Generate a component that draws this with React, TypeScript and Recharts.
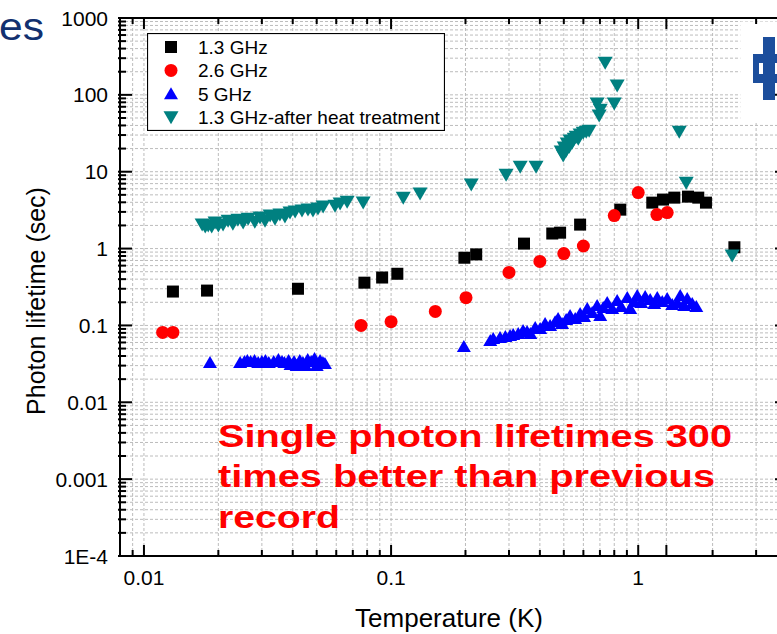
import { ScatterChart, Scatter, XAxis, YAxis, CartesianGrid, Legend, ReferenceArea } from "recharts";

const FONT = '"Liberation Sans", Arial, Helvetica, sans-serif';

// axis ticks
const xTicks = [
  0.009, 0.01, 0.02, 0.03, 0.04, 0.05, 0.06, 0.07, 0.08, 0.09,
  0.1, 0.2, 0.3, 0.4, 0.5, 0.6, 0.7, 0.8, 0.9,
  1, 1.3, 2, 3, 4,
];
const xLongTicks = [0.01, 0.1, 1, 1.3];
const xTickLabels: Record<string, string> = { "0.01": "0.01", "0.1": "0.1", "1": "1" };

const yDecades = [0.0001, 0.001, 0.01, 0.1, 1, 10, 100];
const yMajor = [0.0001, 0.001, 0.01, 0.1, 1, 10, 100, 1000];
const yTickLabels = ["1E-4", "0.001", "0.01", "0.1", "1", "10", "100", "1000"];
const yTicks = [...yDecades.flatMap((d) => [1, 2, 3, 4, 5, 6, 7, 8, 9].map((m) => m * d)), 1000];

// 1.3 GHz
const t13 = [0.0131, 0.018, 0.042, 0.078, 0.092, 0.106, 0.198, 0.221, 0.345, 0.449, 0.483, 0.582, 0.846, 1.14, 1.26, 1.4, 1.59, 1.75, 1.88, 2.45];
const tau13 = [0.276, 0.284, 0.3, 0.36, 0.42, 0.47, 0.76, 0.84, 1.16, 1.57, 1.61, 2.05, 3.21, 3.96, 4.34, 4.6, 4.74, 4.6, 3.96, 1.04];

// 2.6 GHz
const t26 = [0.0119, 0.0131, 0.0756, 0.1, 0.151, 0.201, 0.3, 0.4, 0.5, 0.6, 0.8, 1.0, 1.19, 1.31];
const tau26 = [0.081, 0.081, 0.1, 0.112, 0.152, 0.23, 0.49, 0.68, 0.86, 1.08, 2.69, 5.35, 2.77, 2.94];

// 5 GHz
const t5 = [
  0.0185,
  0.0245, 0.0255, 0.0262, 0.027, 0.028, 0.029, 0.03, 0.031, 0.032, 0.0335, 0.035, 0.0362, 0.037, 0.0385,
  0.0392, 0.0405, 0.0415, 0.0427, 0.044, 0.045, 0.046, 0.0475, 0.049, 0.05, 0.0516, 0.053, 0.054,
  0.197,
  0.252, 0.259, 0.276, 0.29, 0.303, 0.312, 0.327, 0.342, 0.355, 0.366, 0.383, 0.401, 0.42, 0.44, 0.461,
  0.474, 0.492, 0.511, 0.53, 0.556, 0.582, 0.604, 0.622, 0.651, 0.682, 0.702, 0.722, 0.749, 0.785,
  0.822, 0.853, 0.903, 0.928, 0.963, 0.991, 1.028, 1.067, 1.118, 1.161, 1.194, 1.251, 1.31, 1.373,
  1.438, 1.479, 1.535, 1.579, 1.654, 1.718,
];
const tau5 = [
  0.033,
  0.033, 0.034, 0.035, 0.034, 0.035, 0.033, 0.034, 0.035, 0.033, 0.034, 0.036, 0.034, 0.033, 0.035,
  0.031, 0.034, 0.03, 0.035, 0.033, 0.03, 0.036, 0.034, 0.037, 0.03, 0.035, 0.033, 0.032,
  0.053,
  0.0636, 0.0676, 0.0696, 0.0717, 0.0739, 0.0761, 0.0784, 0.0859, 0.0833, 0.0784, 0.0939, 0.0912, 0.106, 0.0997, 0.112,
  0.123, 0.106, 0.119, 0.135, 0.123, 0.143, 0.131, 0.166, 0.147, 0.182, 0.135, 0.171, 0.199, 0.166,
  0.211, 0.176, 0.231, 0.166, 0.205, 0.245, 0.199, 0.238, 0.217, 0.193, 0.231, 0.205, 0.224, 0.187,
  0.199, 0.245, 0.182, 0.224, 0.193, 0.176,
];

// 1.3 GHz after heat treatment
const tHeat = [
  0.0172, 0.0177, 0.0182, 0.0188, 0.0194, 0.02, 0.0209, 0.0219, 0.0229, 0.024, 0.0252, 0.0264, 0.0281, 0.0295,
  0.0309, 0.0324, 0.0339, 0.0355, 0.0372, 0.039, 0.0409, 0.0436, 0.0461, 0.0483, 0.0506, 0.0531, 0.0593, 0.0622,
  0.0664, 0.0771,
  0.112, 0.131, 0.211, 0.292, 0.333, 0.386,
  0.488, 0.497, 0.502, 0.511, 0.516, 0.526, 0.53, 0.54, 0.551, 0.561, 0.572, 0.582, 0.599, 0.616, 0.633,
  0.682, 0.702, 0.695, 0.8, 0.822, 0.735,
  1.466, 1.564, 2.4,
];
const tauHeat = [
  2.05, 1.93, 1.99, 1.93, 2.18, 1.99, 2.05, 2.31, 2.11, 2.38, 2.18, 2.45, 2.24, 2.53,
  2.31, 2.69, 2.45, 2.77, 2.61, 2.94, 3.03, 3.12, 3.22, 3.12, 3.31, 3.52, 3.62, 3.85,
  4.08, 3.97,
  4.6, 5.19, 6.8, 9.15, 11.6, 11.6,
  18.3, 16.2, 20.6, 18.8, 23.2, 21.2, 25.4, 23.9, 26.9, 28.6, 26.9, 30.4, 32.2, 33.2, 34.2,
  76.9, 64.2, 53.7, 76.9, 132, 262,
  33.2, 7.2, 0.81,
];

const zip = (t: number[], tau: number[]) => t.map((v, i) => ({ t: v, tau: tau[i] }));

type Kind = "square" | "circle" | "up" | "down";

function Marker({ kind, cx, cy, color }: { kind: Kind; cx: number; cy: number; color: string }) {
  if (kind === "square") return <rect x={cx - 6} y={cy - 6} width={12} height={12} fill={color} />;
  if (kind === "circle") return <circle cx={cx} cy={cy} r={6.5} fill={color} />;
  if (kind === "up")
    return <path d={`M${cx},${cy - 6.5}L${cx + 7},${cy + 5.5}L${cx - 7},${cy + 5.5}Z`} fill={color} />;
  return <path d={`M${cx - 7.5},${cy - 6}L${cx + 7.5},${cy - 6}L${cx},${cy + 7}Z`} fill={color} />;
}

const series = [
  { name: "1.3 GHz", color: "#000000", kind: "square" as Kind, data: zip(t13, tau13) },
  { name: "2.6 GHz", color: "#ff0000", kind: "circle" as Kind, data: zip(t26, tau26) },
  { name: "5 GHz", color: "#0000ff", kind: "up" as Kind, data: zip(t5, tau5) },
  { name: "1.3 GHz-after heat treatment", color: "#008080", kind: "down" as Kind, data: zip(tHeat, tauHeat) },
];

const isMajorY = (v: number) => Math.abs(Math.log10(v) - Math.round(Math.log10(v))) < 1e-6;
const yLabel = (v: number) => {
  const i = yMajor.findIndex((m) => Math.abs(m - v) / m < 1e-6);
  return i >= 0 ? yTickLabels[i] : "";
};
const isLongX = (v: number) => xLongTicks.some((m) => Math.abs(m - v) / m < 1e-6);

const tickText = { fontFamily: FONT, fontSize: 21, fill: "#000" };

function BottomTick(props: any) {
  const { x, y, payload } = props;
  const v = payload.value;
  const label = xTickLabels[String(v)];
  return (
    <g>
      <line x1={x} x2={x} y1={y} y2={y - (isLongX(v) ? 11 : 6)} stroke="#000" strokeWidth={2} />
      {label && (
        <text x={x} y={y + 29} textAnchor="middle" {...tickText}>
          {label}
        </text>
      )}
    </g>
  );
}

function TopTick(props: any) {
  const { x, y, payload } = props;
  return <line x1={x} x2={x} y1={y} y2={y + (isLongX(payload.value) ? 11 : 6)} stroke="#000" strokeWidth={2} />;
}

function LeftTick(props: any) {
  const { x, y, payload } = props;
  const v = payload.value;
  const major = isMajorY(v);
  return (
    <g>
      <line x1={x - 2} x2={x + (major ? 12 : 6)} y1={y} y2={y} stroke="#000" strokeWidth={2} />
      {major && (
        <text x={x - 12} y={y} dy="0.36em" textAnchor="end" {...tickText}>
          {yLabel(v)}
        </text>
      )}
    </g>
  );
}

function RightTick(props: any) {
  const { x, y, payload } = props;
  return <line x1={x} x2={x - (isMajorY(payload.value) ? 12 : 6)} y1={y} y2={y} stroke="#000" strokeWidth={2} />;
}

function LegendBox(props: any) {
  const names: string[] = props.payload && props.payload.length ? props.payload.map((p: any) => p.value) : [];
  // keep the legend in series order
  const items = series.filter((s) => names.length === 0 || names.includes(s.name));
  return (
    <svg width={298} height={98} style={{ display: "block" }}>
      <rect x={0.5} y={0.5} width={297} height={97} fill="#fff" stroke="#000" strokeWidth={1.2} />
      {items.map((s, i) => {
        const cy = 14 + i * 23.4;
        return (
          <g key={s.name}>
            <Marker kind={s.kind} cx={24} cy={cy} color={s.color} />
            <text x={51} y={cy} dy="0.36em" fontFamily={FONT} fontSize={19} fill="#000">
              {s.name}
            </text>
          </g>
        );
      })}
    </svg>
  );
}

const axisLine = { stroke: "#000", strokeWidth: 2 };

export default function App() {
  return (
    <div style={{ position: "absolute", left: 0, top: 0, width: 777, height: 634, overflow: "hidden", background: "#fff" }}>
      <ScatterChart width={800} height={634} margin={{ top: 0, right: 0, bottom: 18, left: 0 }}>
        <CartesianGrid stroke="#bcbcbc" strokeDasharray="3 2" />
        <XAxis
          dataKey="t"
          type="number"
          scale="log"
          domain={[0.008, 4]}
          ticks={xTicks}
          interval={0}
          allowDataOverflow
          height={60}
          tickSize={0}
          tickMargin={0}
          tickLine={false}
          axisLine={axisLine}
          tick={BottomTick}
        />
        <XAxis
          xAxisId="top"
          orientation="top"
          dataKey="t"
          type="number"
          scale="log"
          domain={[0.008, 4]}
          ticks={xTicks}
          interval={0}
          allowDataOverflow
          height={18}
          tickSize={0}
          tickMargin={0}
          tickLine={false}
          axisLine={axisLine}
          tick={TopTick}
        />
        <YAxis
          dataKey="tau"
          type="number"
          scale="log"
          domain={[0.0001, 1000]}
          ticks={yTicks}
          interval={0}
          allowDataOverflow
          width={120}
          tickSize={0}
          tickMargin={0}
          tickLine={false}
          axisLine={axisLine}
          tick={LeftTick}
        />
        <YAxis
          yAxisId="right"
          orientation="right"
          dataKey="tau"
          type="number"
          scale="log"
          domain={[0.0001, 1000]}
          ticks={yTicks}
          interval={0}
          allowDataOverflow
          width={13}
          tickSize={0}
          tickMargin={0}
          tickLine={false}
          axisLine={axisLine}
          tick={RightTick}
        />
        <ReferenceArea x1={2.59} x2={4} y1={45} y2={900} fill="#fff" fillOpacity={1} stroke="none" />
        <Legend
          layout="vertical"
          align="center"
          verticalAlign="middle"
          content={LegendBox}
          wrapperStyle={{ left: 147, top: 33, width: 298, height: 98 }}
        />
        {series.map((s) => (
          <Scatter
            key={s.name}
            name={s.name}
            data={s.data}
            fill={s.color}
            isAnimationActive={false}
            shape={(p: any) => <Marker kind={s.kind} cx={p.cx} cy={p.cy} color={s.color} />}
          />
        ))}
      </ScatterChart>
      <svg
        width={777}
        height={634}
        style={{ position: "absolute", left: 0, top: 0, pointerEvents: "none" }}
        fontFamily={FONT}
      >
        <text x={-1} y={40} fontSize={38} fill="#12306f" textLength={45} lengthAdjust="spacingAndGlyphs">
          es
        </text>
        <g fill="#1c4e9c">
          <rect x={763} y={37} width={12} height={63} />
          <rect x={753} y={54} width={24} height={9} />
          <rect x={753} y={74} width={24} height={9} />
          <rect x={753} y={54} width={6} height={29} />
        </g>
        <text x={449} y={627} textAnchor="middle" fontSize={26} fill="#000">
          Temperature (K)
        </text>
        <text transform="rotate(-90)" x={-301} y={45} textAnchor="middle" fontSize={25} fill="#000">
          Photon lifetime (sec)
        </text>
        <g fill="#ff0000" fontWeight="bold" fontSize={31}>
          <text x={218} y={447} textLength={514} lengthAdjust="spacingAndGlyphs">
            Single photon lifetimes 300
          </text>
          <text x={218} y={487} textLength={497} lengthAdjust="spacingAndGlyphs">
            times better than previous
          </text>
          <text x={218} y={528} textLength={122} lengthAdjust="spacingAndGlyphs">
            record
          </text>
        </g>
      </svg>
    </div>
  );
}
